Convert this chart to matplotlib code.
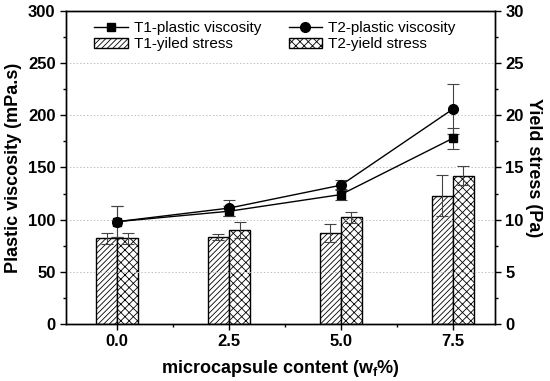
import matplotlib
matplotlib.use("Agg")
import matplotlib.pyplot as plt
import numpy as np
from matplotlib.ticker import MultipleLocator
from matplotlib.lines import Line2D

plt.rcParams['font.family'] = ['Liberation Sans', 'DejaVu Sans']
plt.rcParams['mathtext.fontset'] = 'custom'
plt.rcParams['mathtext.bf'] = 'Liberation Sans:bold'
plt.rcParams['mathtext.rm'] = 'Liberation Sans:bold'
plt.rcParams['hatch.linewidth'] = 0.6

content = [0.0, 2.5, 5.0, 7.5]
xtick_labels = ['0.0', '2.5', '5.0', '7.5']

t1_visc = [98, 108, 124, 178]
t1_visc_err = [15, 5, 5, 10]
t2_visc = [98, 111, 133, 206]
t2_visc_err = [15, 8, 5, 24]

t1_yield = [8.2, 8.3, 8.7, 12.3]
t1_yield_err = [0.5, 0.3, 0.87, 1.95]
t2_yield = [8.2, 9.0, 10.2, 14.2]
t2_yield_err = [0.5, 0.8, 0.55, 0.9]

fig = plt.figure(figsize=(5.5, 3.81), dpi=100)
ax = fig.add_axes([0.12, 0.15, 0.78, 0.821])
ax2 = ax.twinx()

x = np.array(content)
w = 0.47
b1 = ax2.bar(x - w/2, t1_yield, w, color='white', edgecolor='black', linewidth=1,
             hatch='//////', label='T1-yiled stress', zorder=2)
ax2.errorbar(x - w/2, t1_yield, yerr=t1_yield_err, fmt='none', ecolor='#444444',
             elinewidth=0.8, capsize=4, capthick=0.8, zorder=3)
b2 = ax2.bar(x + w/2, t2_yield, w, color='white', edgecolor='black', linewidth=1,
             hatch='xxxx', label='T2-yield stress', zorder=2)
ax2.errorbar(x + w/2, t2_yield, yerr=t2_yield_err, fmt='none', ecolor='#444444',
             elinewidth=0.8, capsize=4, capthick=0.8, zorder=3)

ax.errorbar(x, t1_visc, yerr=t1_visc_err, color='black', marker='s', markersize=6,
            linewidth=1, elinewidth=0.8, capsize=4, capthick=0.8, ecolor='#444444')
ax.errorbar(x, t2_visc, yerr=t2_visc_err, color='black', marker='o', markersize=7,
            linewidth=1, elinewidth=0.8, capsize=4, capthick=0.8, ecolor='#444444')
l1 = Line2D([], [], color='black', marker='s', markersize=6, linewidth=1)
l2 = Line2D([], [], color='black', marker='o', markersize=7, linewidth=1)

ax.set_zorder(ax2.get_zorder() + 1)
ax.patch.set_visible(False)

ax.set_xlim(-1.14, 8.44)
ax.set_ylim(0, 300)
ax2.set_ylim(0, 30)
ax.set_xticks(content)
ax.set_xticklabels(xtick_labels)
ax.xaxis.set_minor_locator(MultipleLocator(1.25))
ax.yaxis.set_major_locator(MultipleLocator(50))
ax.yaxis.set_minor_locator(MultipleLocator(25))
ax2.yaxis.set_major_locator(MultipleLocator(5))
ax2.yaxis.set_minor_locator(MultipleLocator(2.5))

for a in (ax, ax2):
    a.tick_params(which='major', length=4, width=1, labelsize=12)
    a.tick_params(which='minor', length=2.5, width=1)
    for s in a.spines.values():
        s.set_linewidth(1)
for lab in ax.get_xticklabels() + ax.get_yticklabels() + ax2.get_yticklabels():
    lab.set_fontweight('bold')

for yv in [50, 100, 150, 200, 250]:
    ax.axhline(yv, color='#c0c0c0', linestyle=(0, (1.5, 2)), linewidth=0.7, zorder=0)

ax.set_ylabel('Plastic viscosity (mPa.s)', fontsize=13, fontweight='bold', labelpad=4)
ax2.set_ylabel('Yield stress (Pa)', fontsize=13, fontweight='bold', rotation=270, labelpad=13)
ax.set_xlabel(r'microcapsule content (w$_\mathbf{f}$%)', fontsize=13, fontweight='bold', labelpad=6)

handles = [l1, b1, l2, b2]
labels = ['T1-plastic viscosity', 'T1-yiled stress', 'T2-plastic viscosity', 'T2-yield stress']
ax.legend(handles, labels, ncol=2, loc='upper center', bbox_to_anchor=(0.487, 1.0),
          frameon=False, fontsize=11, handlelength=2.2, columnspacing=1.8,
          handletextpad=0.4, labelspacing=0.15, borderaxespad=0.25)

fig.savefig('out.png', dpi=100)
